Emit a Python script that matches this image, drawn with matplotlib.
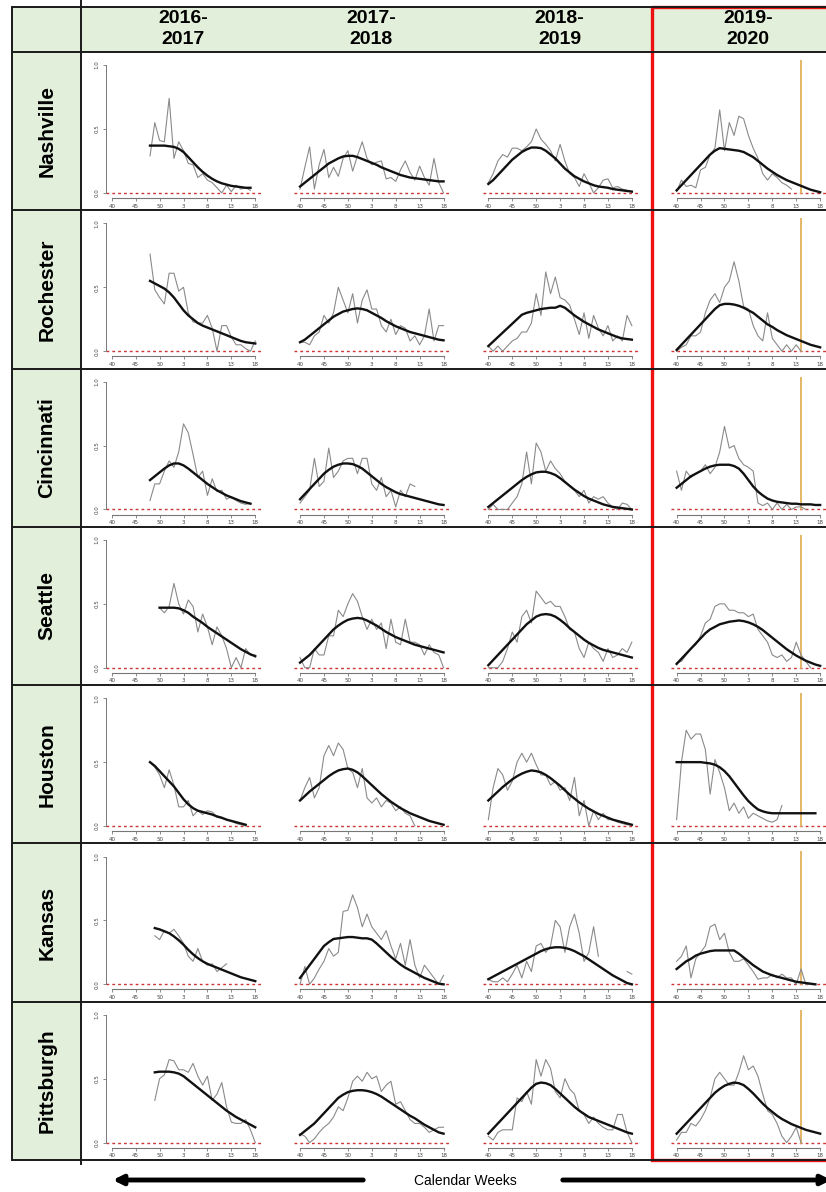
import numpy as np
import matplotlib.pyplot as plt
from matplotlib.patches import Rectangle

W, H = 826, 1192
nan = np.nan

seasons = ['2016-\n2017', '2017-\n2018', '2018-\n2019', '2019-\n2020']
cities = ['Nashville', 'Rochester', 'Cincinnati', 'Seattle', 'Houston', 'Kansas', 'Pittsburgh']
week_ticks = [0, 5, 10, 15, 20, 25, 30]          # index 0 = calendar week 40
week_labels = ['40', '45', '50', '3', '8', '13', '18']
covid_week = 25.9

# first week index of each season's series (raw and smoothed share it)
nashville_start = [8, 0, 0, 0]
nashville_raw = [
    [0.29, 0.55, 0.41, 0.40, 0.74, 0.27, 0.40, 0.33, 0.23, 0.22, 0.12, 0.15, 0.10, 0.08, 0.04, 0.00, 0.06, 0.01, 0.06, 0.03, 0.04, 0.02],
    [0.03, 0.20, 0.36, 0.03, 0.22, 0.34, 0.12, 0.20, 0.13, 0.27, 0.33, 0.17, 0.29, 0.40, 0.27, 0.22, 0.24, 0.25, 0.11, 0.12, 0.09, 0.18, 0.25, 0.16, 0.10, 0.21, 0.12, 0.06, 0.27, 0.08, 0.00],
    [0.08, 0.15, 0.25, 0.30, 0.28, 0.35, 0.35, 0.33, 0.36, 0.40, 0.50, 0.42, 0.38, 0.33, 0.25, 0.38, 0.25, 0.15, 0.12, 0.05, 0.15, 0.08, 0.00, 0.04, 0.10, 0.11, 0.04, 0.05, 0.03, 0.02, 0.01],
    [0.01, 0.10, 0.05, 0.06, 0.04, 0.18, 0.20, 0.30, 0.35, 0.65, 0.33, 0.55, 0.45, 0.60, 0.58, 0.45, 0.35, 0.27, 0.15, 0.10, 0.15, 0.12, 0.08, 0.06, 0.03],
]
nashville_fit = [
    [0.37, 0.37, 0.37, 0.37, 0.365, 0.36, 0.345, 0.32, 0.28, 0.24, 0.20, 0.165, 0.135, 0.11, 0.09, 0.075, 0.065, 0.055, 0.05, 0.045, 0.04, 0.04],
    [0.05, 0.08, 0.11, 0.14, 0.17, 0.20, 0.23, 0.25, 0.27, 0.285, 0.29, 0.29, 0.28, 0.265, 0.25, 0.235, 0.22, 0.20, 0.185, 0.17, 0.155, 0.14, 0.13, 0.12, 0.115, 0.11, 0.105, 0.10, 0.095, 0.09, 0.09],
    [0.07, 0.10, 0.14, 0.18, 0.22, 0.26, 0.29, 0.32, 0.34, 0.355, 0.355, 0.35, 0.33, 0.30, 0.27, 0.23, 0.19, 0.16, 0.13, 0.11, 0.09, 0.075, 0.06, 0.05, 0.045, 0.04, 0.03, 0.025, 0.02, 0.015, 0.01],
    [0.02, 0.06, 0.10, 0.14, 0.18, 0.22, 0.26, 0.30, 0.33, 0.35, 0.345, 0.34, 0.335, 0.33, 0.32, 0.30, 0.28, 0.25, 0.22, 0.19, 0.165, 0.14, 0.12, 0.10, 0.085, 0.07, 0.055, 0.04, 0.025, 0.015, 0.005],
]

rochester_start = [8, 0, 0, 0]
rochester_raw = [
    [0.76, 0.48, 0.42, 0.37, 0.61, 0.61, 0.47, 0.50, 0.30, 0.23, 0.22, 0.22, 0.28, 0.18, 0.00, 0.20, 0.20, 0.11, 0.05, 0.05, 0.02, 0.00, 0.08],
    [0.07, 0.07, 0.05, 0.12, 0.15, 0.28, 0.22, 0.30, 0.50, 0.40, 0.30, 0.45, 0.22, 0.40, 0.48, 0.33, 0.33, 0.20, 0.15, 0.25, 0.13, 0.20, 0.18, 0.08, 0.12, 0.05, 0.12, 0.33, 0.08, 0.20, 0.20],
    [0.04, 0.00, 0.04, 0.00, 0.04, 0.08, 0.10, 0.15, 0.15, 0.22, 0.45, 0.28, 0.62, 0.45, 0.58, 0.42, 0.40, 0.36, 0.25, 0.13, 0.30, 0.10, 0.28, 0.18, 0.12, 0.20, 0.08, 0.12, 0.08, 0.28, 0.20],
    [0.00, 0.03, 0.05, 0.12, 0.12, 0.15, 0.30, 0.40, 0.45, 0.38, 0.50, 0.55, 0.70, 0.55, 0.35, 0.33, 0.20, 0.12, 0.08, 0.30, 0.10, 0.05, 0.00, 0.05, 0.00, 0.05, 0.00],
]
rochester_fit = [
    [0.55, 0.53, 0.51, 0.49, 0.46, 0.42, 0.37, 0.32, 0.28, 0.25, 0.22, 0.20, 0.185, 0.17, 0.155, 0.14, 0.125, 0.11, 0.095, 0.08, 0.07, 0.065, 0.06],
    [0.07, 0.09, 0.12, 0.15, 0.18, 0.21, 0.24, 0.27, 0.29, 0.31, 0.32, 0.33, 0.335, 0.33, 0.32, 0.30, 0.28, 0.26, 0.235, 0.215, 0.195, 0.18, 0.165, 0.15, 0.14, 0.13, 0.12, 0.11, 0.10, 0.09, 0.085],
    [0.04, 0.075, 0.11, 0.145, 0.18, 0.215, 0.25, 0.285, 0.30, 0.31, 0.32, 0.33, 0.335, 0.34, 0.34, 0.355, 0.34, 0.31, 0.28, 0.255, 0.23, 0.21, 0.19, 0.17, 0.155, 0.14, 0.125, 0.11, 0.10, 0.095, 0.09],
    [0.01, 0.05, 0.09, 0.13, 0.17, 0.21, 0.25, 0.29, 0.33, 0.36, 0.37, 0.37, 0.365, 0.355, 0.34, 0.32, 0.30, 0.27, 0.24, 0.21, 0.19, 0.165, 0.145, 0.125, 0.11, 0.095, 0.08, 0.065, 0.05, 0.04, 0.03],
]

cincinnati_start = [8, 0, 0, 0]
cincinnati_raw = [
    [0.07, 0.20, 0.20, 0.30, 0.38, 0.33, 0.45, 0.67, 0.60, 0.43, 0.25, 0.30, 0.11, 0.24, 0.14, 0.15, 0.08, 0.10, 0.07, 0.05, 0.04, 0.05],
    [0.05, 0.10, 0.15, 0.40, 0.18, 0.22, 0.48, 0.25, 0.30, 0.38, 0.40, 0.40, 0.28, 0.40, 0.40, 0.20, 0.15, 0.25, 0.10, 0.15, 0.02, 0.15, 0.10, 0.20, 0.18],
    [0.00, 0.04, 0.00, 0.00, 0.00, 0.05, 0.10, 0.20, 0.45, 0.20, 0.52, 0.45, 0.30, 0.38, 0.32, 0.28, 0.22, 0.18, 0.15, 0.10, 0.15, 0.05, 0.10, 0.08, 0.10, 0.05, 0.02, 0.00, 0.05, 0.04, 0.00],
    [0.30, 0.15, 0.30, 0.25, 0.28, 0.30, 0.35, 0.28, 0.33, 0.45, 0.65, 0.48, 0.50, 0.40, 0.35, 0.33, 0.30, 0.05, 0.03, 0.05, 0.00, 0.05, 0.00, 0.04, 0.00, 0.02, 0.02, 0.00],
]
cincinnati_fit = [
    [0.23, 0.26, 0.29, 0.32, 0.345, 0.36, 0.36, 0.345, 0.32, 0.29, 0.26, 0.23, 0.20, 0.175, 0.15, 0.13, 0.11, 0.095, 0.08, 0.065, 0.055, 0.045],
    [0.08, 0.12, 0.16, 0.20, 0.24, 0.28, 0.31, 0.335, 0.35, 0.36, 0.36, 0.355, 0.34, 0.32, 0.29, 0.26, 0.23, 0.20, 0.175, 0.155, 0.135, 0.12, 0.11, 0.10, 0.09, 0.08, 0.07, 0.06, 0.05, 0.04, 0.035],
    [0.02, 0.05, 0.08, 0.11, 0.14, 0.17, 0.20, 0.23, 0.255, 0.275, 0.29, 0.295, 0.295, 0.285, 0.27, 0.245, 0.215, 0.185, 0.155, 0.13, 0.105, 0.085, 0.07, 0.055, 0.04, 0.03, 0.02, 0.015, 0.01, 0.005, 0.00],
    [0.17, 0.20, 0.23, 0.26, 0.28, 0.30, 0.32, 0.335, 0.345, 0.35, 0.35, 0.35, 0.34, 0.32, 0.28, 0.23, 0.18, 0.14, 0.11, 0.085, 0.07, 0.06, 0.055, 0.05, 0.045, 0.045, 0.04, 0.04, 0.04, 0.035, 0.035],
]

seattle_start = [10, 0, 0, 0]
seattle_raw = [
    [0.47, 0.43, 0.48, 0.66, 0.50, 0.42, 0.53, 0.48, 0.28, 0.42, 0.32, 0.18, 0.32, 0.25, 0.15, 0.00, 0.08, 0.00, 0.15, 0.10, 0.10],
    [0.08, 0.00, 0.00, 0.15, 0.10, 0.10, 0.25, 0.25, 0.45, 0.40, 0.50, 0.58, 0.52, 0.40, 0.30, 0.38, 0.30, 0.35, 0.15, 0.38, 0.20, 0.18, 0.38, 0.20, 0.20, 0.18, 0.10, 0.18, 0.12, 0.10, 0.00],
    [0.00, 0.00, 0.00, 0.05, 0.15, 0.28, 0.20, 0.40, 0.45, 0.35, 0.60, 0.55, 0.50, 0.52, 0.48, 0.48, 0.40, 0.30, 0.28, 0.15, 0.08, 0.20, 0.15, 0.12, 0.05, 0.15, 0.08, 0.10, 0.15, 0.12, 0.20],
    [0.04, 0.05, 0.10, 0.15, 0.18, 0.25, 0.35, 0.38, 0.48, 0.50, 0.50, 0.45, 0.45, 0.43, 0.43, 0.40, 0.42, 0.30, 0.25, 0.20, 0.10, 0.08, 0.10, 0.05, 0.08, 0.20, 0.10, 0.05, 0.00],
]
seattle_fit = [
    [0.47, 0.47, 0.47, 0.47, 0.465, 0.45, 0.43, 0.40, 0.375, 0.35, 0.32, 0.295, 0.27, 0.245, 0.22, 0.195, 0.17, 0.145, 0.125, 0.105, 0.09],
    [0.04, 0.07, 0.10, 0.14, 0.18, 0.22, 0.26, 0.30, 0.33, 0.355, 0.375, 0.385, 0.39, 0.385, 0.37, 0.35, 0.33, 0.305, 0.28, 0.26, 0.24, 0.225, 0.21, 0.195, 0.18, 0.17, 0.16, 0.15, 0.14, 0.13, 0.12],
    [0.02, 0.06, 0.10, 0.14, 0.18, 0.22, 0.26, 0.30, 0.34, 0.37, 0.40, 0.415, 0.42, 0.415, 0.40, 0.375, 0.345, 0.31, 0.28, 0.25, 0.22, 0.195, 0.175, 0.155, 0.14, 0.13, 0.12, 0.11, 0.10, 0.09, 0.08],
    [0.03, 0.07, 0.11, 0.15, 0.19, 0.23, 0.27, 0.30, 0.32, 0.34, 0.35, 0.36, 0.365, 0.37, 0.365, 0.355, 0.34, 0.32, 0.295, 0.265, 0.235, 0.205, 0.175, 0.145, 0.12, 0.095, 0.075, 0.055, 0.04, 0.025, 0.015],
]

houston_start = [8, 0, 0, 0]
houston_raw = [
    [0.50, 0.46, 0.40, 0.30, 0.44, 0.32, 0.15, 0.15, 0.20, 0.08, 0.12, 0.09, 0.12, 0.11, 0.07, 0.06, 0.05, 0.04, 0.02, 0.01, 0.00],
    [0.20, 0.30, 0.38, 0.22, 0.30, 0.55, 0.63, 0.55, 0.65, 0.60, 0.45, 0.42, 0.30, 0.45, 0.22, 0.18, 0.22, 0.15, 0.20, 0.18, 0.12, 0.15, 0.10, 0.08, 0.00],
    [0.05, 0.30, 0.45, 0.40, 0.28, 0.35, 0.50, 0.57, 0.50, 0.57, 0.48, 0.40, 0.40, 0.32, 0.35, 0.28, 0.30, 0.20, 0.38, 0.08, 0.20, 0.00, 0.12, 0.05, 0.10, 0.05, 0.05, 0.03, 0.02, 0.01, 0.01],
    [0.05, 0.50, 0.75, 0.68, 0.72, 0.72, 0.60, 0.25, 0.52, 0.42, 0.30, 0.12, 0.18, 0.10, 0.15, 0.06, 0.10, 0.08, 0.06, 0.04, 0.03, 0.05, 0.16],
]
houston_fit = [
    [0.50, 0.47, 0.43, 0.39, 0.35, 0.31, 0.26, 0.21, 0.17, 0.14, 0.12, 0.11, 0.10, 0.09, 0.075, 0.065, 0.05, 0.04, 0.03, 0.02, 0.01],
    [0.20, 0.235, 0.27, 0.30, 0.33, 0.36, 0.39, 0.415, 0.435, 0.445, 0.45, 0.44, 0.42, 0.39, 0.355, 0.32, 0.285, 0.25, 0.22, 0.19, 0.165, 0.14, 0.12, 0.10, 0.085, 0.07, 0.055, 0.04, 0.03, 0.02, 0.01],
    [0.20, 0.235, 0.27, 0.305, 0.335, 0.365, 0.39, 0.41, 0.425, 0.435, 0.43, 0.42, 0.40, 0.375, 0.345, 0.315, 0.28, 0.245, 0.215, 0.185, 0.16, 0.135, 0.115, 0.095, 0.08, 0.065, 0.05, 0.04, 0.03, 0.02, 0.01],
    [0.50, 0.50, 0.50, 0.50, 0.50, 0.50, 0.495, 0.49, 0.48, 0.46, 0.43, 0.39, 0.34, 0.29, 0.24, 0.195, 0.16, 0.13, 0.115, 0.105, 0.10, 0.10, 0.10, 0.10, 0.10, 0.10, 0.10, 0.10, 0.10, 0.10],
]

kansas_start = [9, 0, 0, 0]
kansas_raw = [
    [0.38, 0.35, 0.42, 0.40, 0.43, 0.38, 0.32, 0.22, 0.18, 0.28, 0.18, 0.15, 0.16, 0.10, 0.13, 0.16],
    [0.00, 0.14, 0.00, 0.05, 0.12, 0.18, 0.28, 0.22, 0.25, 0.57, 0.58, 0.70, 0.60, 0.45, 0.55, 0.45, 0.40, 0.35, 0.42, 0.30, 0.20, 0.32, 0.15, 0.35, 0.15, 0.05, 0.15, 0.10, 0.05, 0.00, 0.07],
    [0.04, 0.02, 0.02, 0.05, 0.02, 0.08, 0.15, 0.05, 0.18, 0.10, 0.30, 0.32, 0.25, 0.30, 0.50, 0.45, 0.25, 0.45, 0.55, 0.40, 0.18, 0.25, 0.45, 0.22, nan, nan, nan, nan, nan, 0.10, 0.08],
    [0.18, 0.22, 0.30, 0.05, 0.20, 0.25, 0.30, 0.45, 0.47, 0.35, 0.40, 0.25, 0.18, 0.18, 0.20, 0.15, 0.10, 0.04, 0.05, 0.05, 0.08, 0.05, 0.08, 0.05, 0.05, 0.00, 0.12, 0.00, 0.00],
]
kansas_fit = [
    [0.44, 0.43, 0.415, 0.40, 0.375, 0.345, 0.31, 0.27, 0.235, 0.205, 0.18, 0.16, 0.145, 0.13, 0.115, 0.10, 0.085, 0.07, 0.055, 0.045, 0.035, 0.025],
    [0.05, 0.10, 0.15, 0.20, 0.25, 0.30, 0.33, 0.355, 0.36, 0.365, 0.37, 0.37, 0.365, 0.36, 0.36, 0.35, 0.32, 0.285, 0.25, 0.215, 0.185, 0.155, 0.13, 0.11, 0.09, 0.07, 0.05, 0.035, 0.02, 0.005, 0.00],
    [0.04, 0.06, 0.08, 0.10, 0.12, 0.14, 0.16, 0.18, 0.20, 0.22, 0.24, 0.26, 0.275, 0.285, 0.29, 0.29, 0.285, 0.275, 0.26, 0.24, 0.22, 0.195, 0.17, 0.145, 0.12, 0.095, 0.07, 0.05, 0.03, 0.01, 0.00],
    [0.12, 0.15, 0.18, 0.20, 0.225, 0.24, 0.25, 0.26, 0.265, 0.265, 0.265, 0.265, 0.265, 0.24, 0.21, 0.18, 0.15, 0.125, 0.10, 0.085, 0.07, 0.06, 0.05, 0.04, 0.03, 0.02, 0.015, 0.01, 0.005, 0.00],
]

pittsburgh_start = [9, 0, 0, 0]
pittsburgh_raw = [
    [0.33, 0.50, 0.53, 0.65, 0.64, 0.57, 0.57, 0.55, 0.62, 0.52, 0.45, 0.52, 0.33, 0.38, 0.47, 0.28, 0.16, 0.15, 0.15, 0.18, 0.10, 0.00],
    [0.07, 0.05, 0.00, 0.03, 0.08, 0.12, 0.15, 0.20, 0.28, 0.25, 0.35, 0.48, 0.52, 0.48, 0.55, 0.50, 0.52, 0.40, 0.45, 0.48, 0.30, 0.32, 0.25, 0.18, 0.15, 0.15, 0.12, 0.08, 0.10, 0.12, 0.12],
    [0.05, 0.02, 0.08, 0.10, 0.10, 0.10, 0.35, 0.32, 0.40, 0.30, 0.65, 0.52, 0.65, 0.58, 0.40, 0.35, 0.50, 0.42, 0.38, 0.25, 0.22, 0.15, 0.20, 0.15, 0.12, 0.10, 0.10, 0.22, 0.22, 0.08, 0.00],
    [0.02, 0.08, 0.08, 0.15, 0.13, 0.18, 0.25, 0.35, 0.50, 0.55, 0.50, 0.45, 0.45, 0.55, 0.68, 0.57, 0.60, 0.52, 0.38, 0.25, 0.22, 0.15, 0.05, 0.00, 0.05, 0.12, 0.00],
]
pittsburgh_fit = [
    [0.55, 0.555, 0.555, 0.555, 0.55, 0.54, 0.52, 0.49, 0.46, 0.43, 0.40, 0.37, 0.34, 0.31, 0.28, 0.25, 0.225, 0.20, 0.18, 0.16, 0.14, 0.12],
    [0.06, 0.09, 0.12, 0.15, 0.19, 0.23, 0.27, 0.31, 0.35, 0.375, 0.395, 0.405, 0.41, 0.41, 0.405, 0.395, 0.38, 0.36, 0.335, 0.31, 0.285, 0.26, 0.235, 0.21, 0.19, 0.165, 0.14, 0.12, 0.10, 0.08, 0.07],
    [0.07, 0.11, 0.15, 0.19, 0.23, 0.27, 0.31, 0.35, 0.39, 0.43, 0.46, 0.47, 0.465, 0.45, 0.42, 0.385, 0.35, 0.315, 0.28, 0.25, 0.225, 0.20, 0.185, 0.17, 0.155, 0.14, 0.125, 0.11, 0.095, 0.08, 0.07],
    [0.07, 0.11, 0.15, 0.19, 0.23, 0.27, 0.31, 0.35, 0.39, 0.42, 0.445, 0.46, 0.47, 0.465, 0.45, 0.42, 0.385, 0.345, 0.305, 0.27, 0.24, 0.21, 0.185, 0.165, 0.145, 0.13, 0.115, 0.10, 0.09, 0.08, 0.07],
]

starts = [nashville_start, rochester_start, cincinnati_start, seattle_start,
          houston_start, kansas_start, pittsburgh_start]
raws = [nashville_raw, rochester_raw, cincinnati_raw, seattle_raw,
        houston_raw, kansas_raw, pittsburgh_raw]
fits = [nashville_fit, rochester_fit, cincinnati_fit, seattle_fit,
        houston_fit, kansas_fit, pittsburgh_fit]

green = '#E2EFDA'
line_col = '#1a1a1a'

fig = plt.figure(figsize=(W / 100, H / 100), dpi=100)

# background "table" drawn in pixel coordinates
bg = fig.add_axes([0, 0, 1, 1])
bg.set_xlim(0, W)
bg.set_ylim(H, 0)
bg.axis('off')

top, head_bot, bot = 7, 52, 1160
left, col_edge = 12, 81
row_h = (bot - head_bot) / len(cities)

bg.add_patch(Rectangle((left, top), W - left, head_bot - top, color=green, lw=0))
bg.add_patch(Rectangle((left, head_bot), col_edge - left, bot - head_bot, color=green, lw=0))

for y in [top, head_bot] + [head_bot + row_h * (i + 1) for i in range(len(cities))]:
    bg.plot([left, W], [y, y], color=line_col, lw=1.4, solid_capstyle='butt')
bg.plot([left, left], [top, bot], color=line_col, lw=1.4)
bg.plot([col_edge, col_edge], [0, bot + 4], color=line_col, lw=1.4)

col_w = 188.3
for c, s in enumerate(seasons):
    bg.text(106 + 77 + col_w * c, 29, s, ha='center', va='center', fontsize=14,
            fontweight='bold', family=['Liberation Sans', 'DejaVu Sans'], linespacing=1.3)

for r, name in enumerate(cities):
    bg.text(47, head_bot + row_h * (r + 0.5), name, rotation=90, ha='center', va='center',
            fontsize=15, fontweight='bold', family=['Liberation Sans', 'DejaVu Sans'])

# red box around the last season
bg.add_patch(Rectangle((652, top), 190, bot - top, fill=False, edgecolor='#ee1111', lw=2.4))

# calendar weeks arrows
bg.annotate('', xy=(110, 1180), xytext=(366, 1180), annotation_clip=False,
            arrowprops=dict(arrowstyle='-|>', lw=3.5, color='black', mutation_scale=14))
bg.annotate('', xy=(834, 1180), xytext=(560, 1180), annotation_clip=False,
            arrowprops=dict(arrowstyle='-|>', lw=3.5, color='black', mutation_scale=14))
bg.text(465, 1181, 'Calendar Weeks', ha='center', va='center', fontsize=10,
        family=['Liberation Sans', 'DejaVu Sans'])

# small panels
for r in range(len(cities)):
    for c in range(len(seasons)):
        x0 = 106 + col_w * c
        y0 = head_bot + row_h * r + 8
        ax = fig.add_axes([x0 / W, 1 - (y0 + 138) / H, 155 / W, 138 / H])
        ax.patch.set_alpha(0)
        ax.set_xlim(-1.2, 31.2)
        ax.set_ylim(-0.04, 1.04)

        ax.axhline(0, color='#cc3333', lw=1.0, ls=(0, (2, 2.2)))
        if c == 3:
            ax.axvline(covid_week, ymin=0.037, ymax=1, color='#E3B05A', lw=1.3)

        st = starts[r][c]
        raw = raws[r][c]
        fit = fits[r][c]
        ax.plot(st + np.arange(len(raw)), raw, color='#8a8a8a', lw=0.8)
        ax.plot(st + np.arange(len(fit)), fit, color='#111111', lw=1.7)

        for sp in ['top', 'right']:
            ax.spines[sp].set_visible(False)
        ax.spines['bottom'].set_bounds(0, 30)
        ax.spines['bottom'].set_color('#777777')
        ax.spines['bottom'].set_linewidth(0.8)
        ax.set_xticks(week_ticks)
        ax.set_xticklabels(week_labels)
        ax.tick_params(axis='x', length=2.5, width=0.6, color='#777777', pad=1.5,
                       labelsize=4, labelcolor='#444444')
        if c == 0:
            ax.spines['left'].set_bounds(0, 1)
            ax.spines['left'].set_color('#777777')
            ax.spines['left'].set_linewidth(0.7)
            ax.set_yticks([0, 0.5, 1.0])
            ax.set_yticklabels(['0.0', '0.5', '1.0'], rotation=90, va='center')
            ax.tick_params(axis='y', length=2.5, width=0.6, color='#777777', pad=2,
                           labelsize=4, labelcolor='#444444')
        else:
            ax.spines['left'].set_visible(False)
            ax.set_yticks([])

fig.savefig('out.png', dpi=100)
